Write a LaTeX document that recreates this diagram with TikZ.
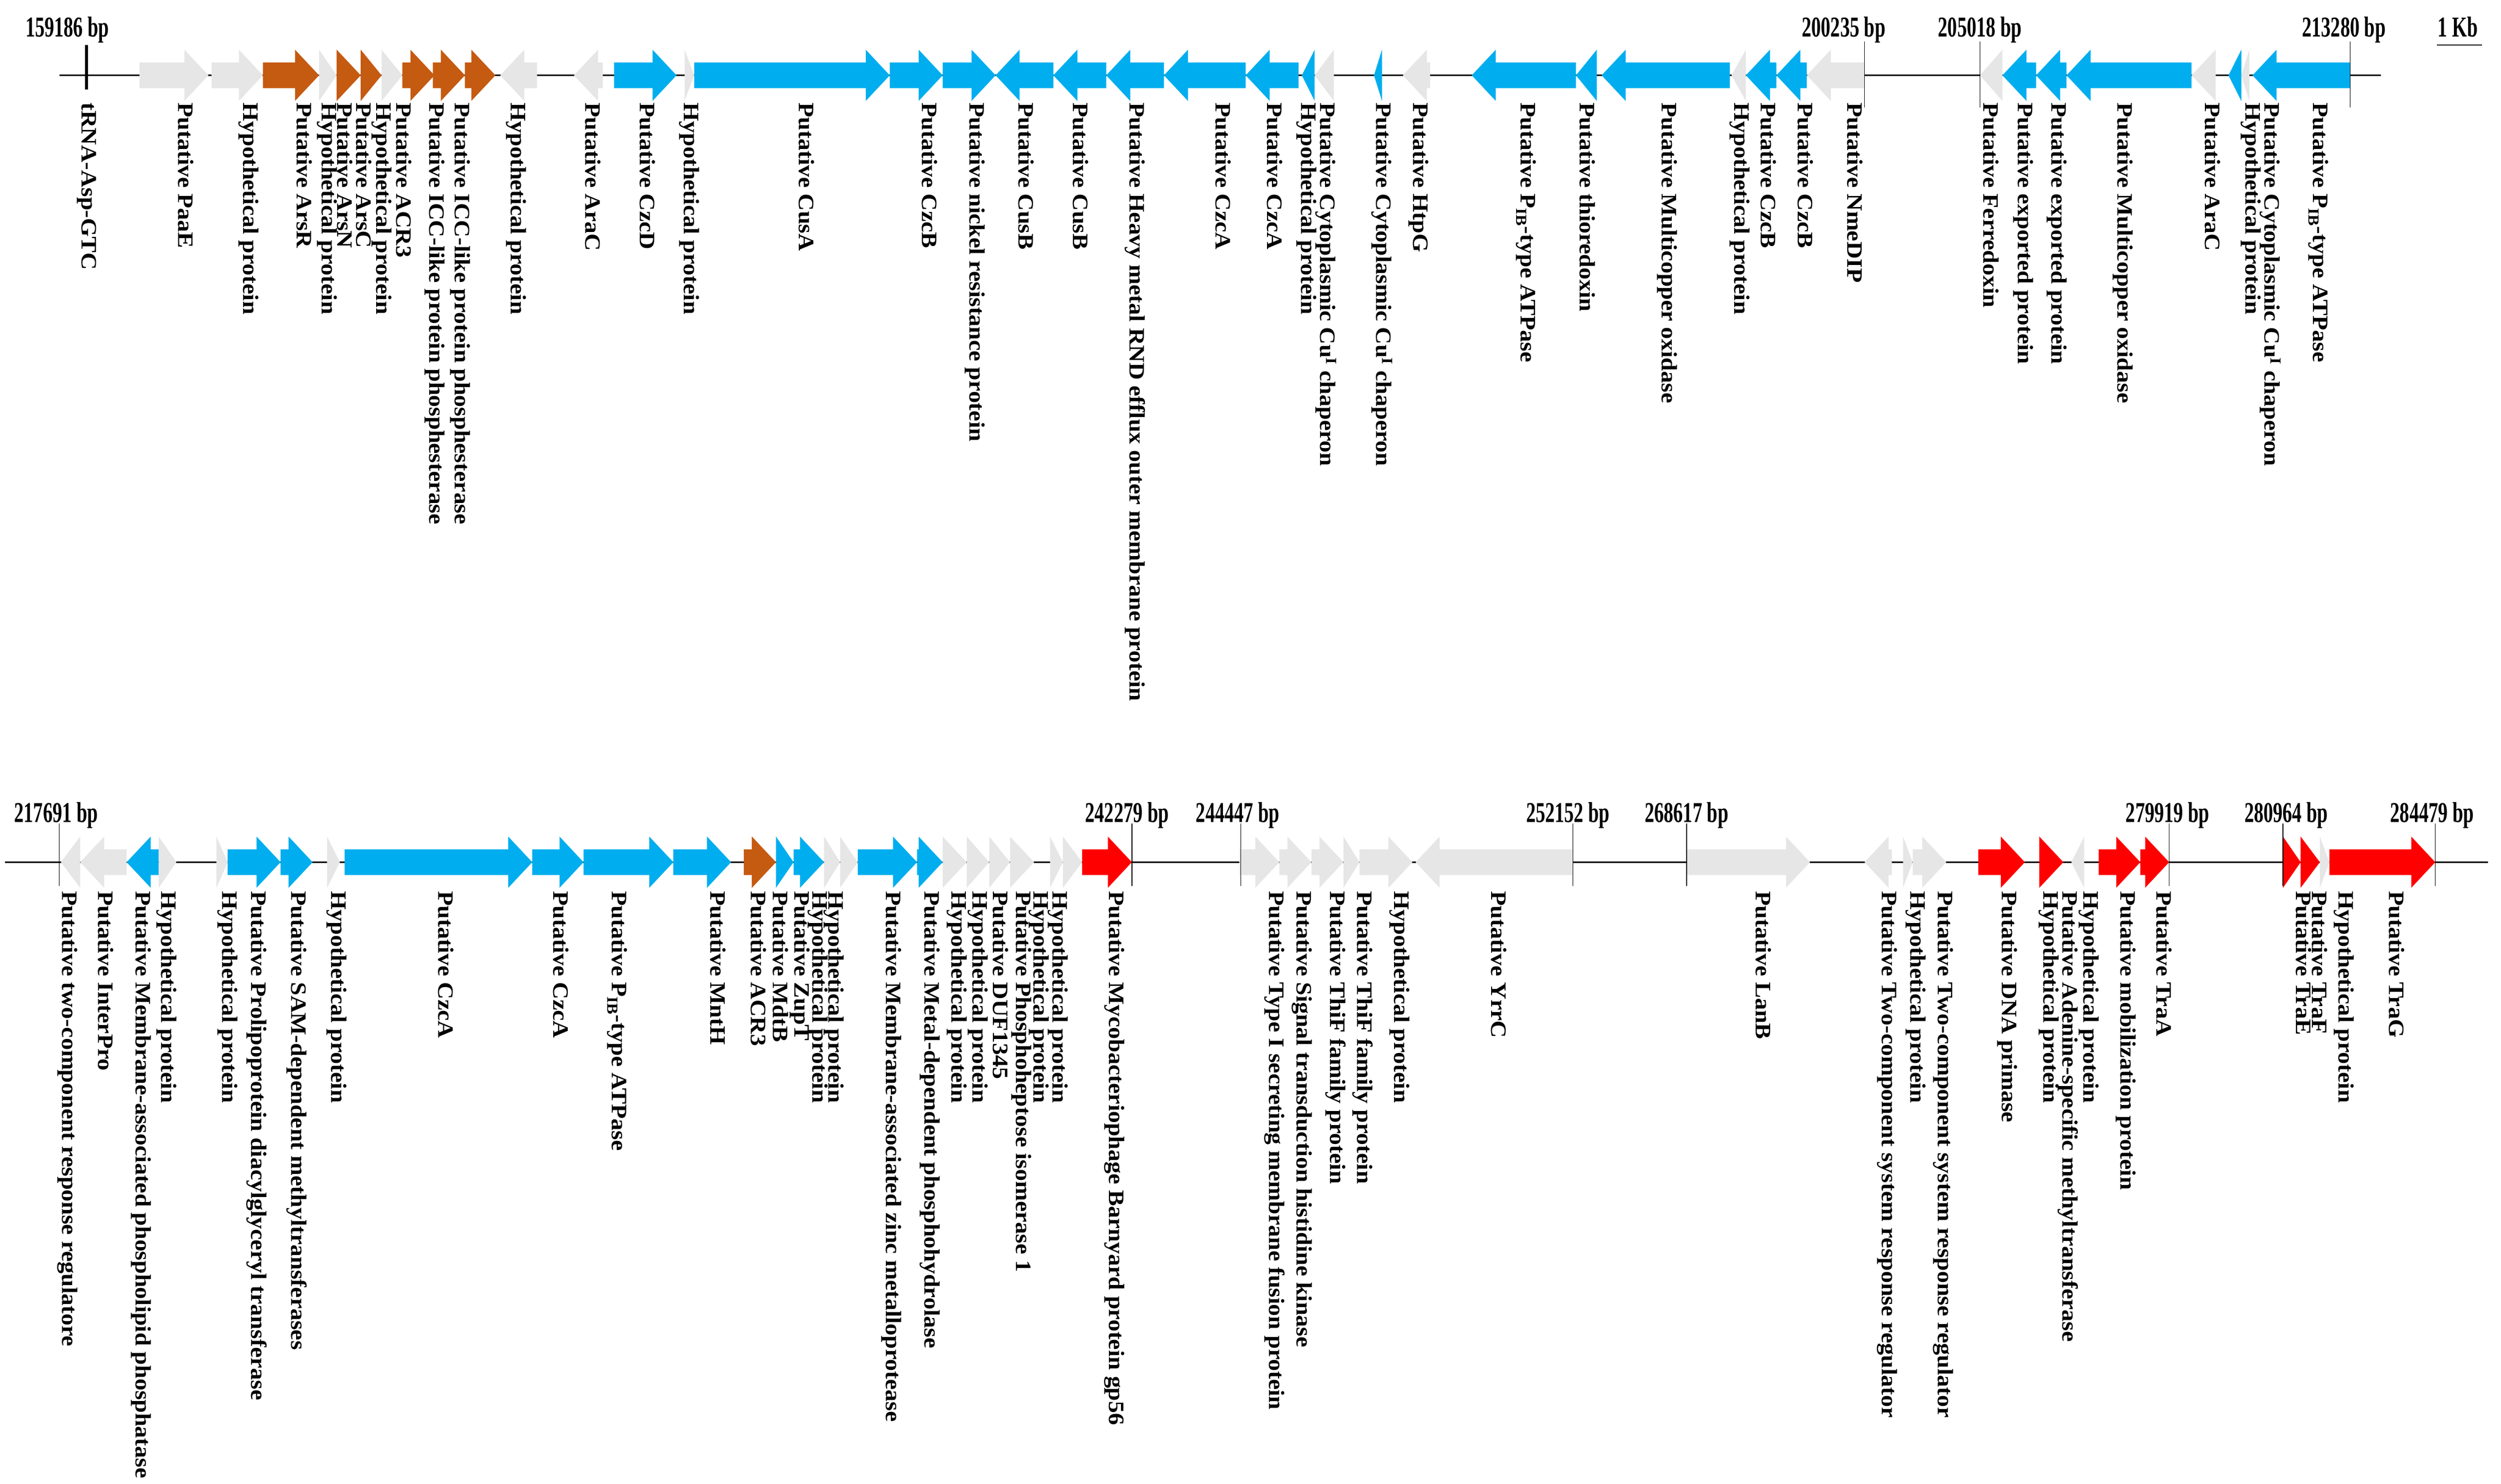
\documentclass[tikz,border=0pt]{standalone}
\usepackage{fontspec}
\setmainfont{Liberation Serif}
\usepackage{tikz}
\usetikzlibrary{positioning}
\definecolor{gr}{RGB}{230,230,230}
\definecolor{bl}{RGB}{0,174,239}
\definecolor{og}{RGB}{197,90,17}
\definecolor{rd}{RGB}{255,0,0}
% one gene: from, to (arrow head at "to"), backbone y, colour
\newcommand{\gene}[4]{%
  \pgfmathsetmacro{\hx}{#2-sign(#2-#1)*min(15,abs(#2-#1))}
  \fill[#4] (#1,#3-8) -- (\hx,#3-8) -- (\hx,#3-16) -- (#2,#3) -- (\hx,#3+16) -- (\hx,#3+8) -- (#1,#3+8) -- cycle;}
\newcommand{\lbl}[1]{\scalebox{1.25}[1.15]{#1}}
\newcommand{\pos}[1]{\scalebox{1.0}[1.5]{#1}}
\begin{document}
\begin{tikzpicture}[x=0.1cm,y=-0.1cm]
\tikzset{LabelStyle/.style = {rotate=-90, anchor=west, inner sep=0pt,
                              font=\fontsize{34}{36}\selectfont\bfseries},
         PosStyle/.style   = {anchor=base, inner sep=0pt,
                              font=\fontsize{34}{36}\selectfont\bfseries},
         TickStyle/.style  = {line width=1.2pt}}
\useasboundingbox (0,0) rectangle (1560,926);
% backbones
\coordinate (A1) at (37,47);  \coordinate (A2) at (1485,47);
\coordinate (B1) at (3,538);  \coordinate (B2) at (1552,538);
\draw[line width=3pt] (A1) -- (A2);
\draw[line width=3pt] (B1) -- (B2);
% genes, first row
\foreach \f/\t/\c in {87/130/gr, 132/164/gr, 164/199/og, 199/210/gr, 210/225/og, 225/238/og,
  238/251/gr, 251/271/og, 270/290/og, 290/309/og, 335/312/gr, 376/358/gr, 383/422/bl,
  427/433/gr, 433/555/bl, 555/588/bl, 588/621/bl, 657/621/bl, 690/657/bl, 726/690/bl,
  777/726/bl, 810/777/bl, 820/812/bl, 832/820/gr, 862/857/bl, 892/875/gr, 983/918/bl,
  996/983/bl, 1079/999/bl, 1089/1080/gr, 1108/1089/bl, 1127/1108/bl, 1163/1127/gr,
  1249/1235/gr, 1270/1249/bl, 1289/1270/bl, 1367/1289/bl, 1382/1367/gr, 1398/1390/bl,
  1403/1398/gr, 1466/1405/bl}
  {\gene{\f}{\t}{47}{\c}}
% genes, second row
\foreach \f/\t/\c in {50/38/gr, 79/50/gr, 99/79/bl, 99/110/gr, 135/142/gr, 142/175/bl,
  175/195/bl, 204/212/gr, 215/332/bl, 332/364/bl, 364/420/bl, 420/456/bl, 464/484/og,
  484/495/bl, 495/514/bl, 514/524/gr, 524/535/gr, 535/572/bl, 572/588/bl, 588/603/gr,
  603/617/gr, 617/630/gr, 630/645/gr, 655/663/gr, 663/675/gr, 675/706/rd, 773/798/gr,
  798/818/gr, 818/838/gr, 838/848/gr, 848/881/gr, 981/883/gr, 1052/1129/gr, 1180/1163/gr,
  1187/1193/gr, 1193/1214/gr, 1234/1263/rd, 1272/1287/rd, 1300/1292/gr, 1309/1335/rd,
  1335/1353/rd, 1424/1435/rd, 1435/1447/rd, 1447/1453/gr, 1453/1519/rd}
  {\gene{\f}{\t}{538}{\c}}
% tRNA
\draw[line width=5pt] (54,28) -- (54,56);
% position ticks
\foreach \x in {1163,1235,1466}
  \draw[TickStyle] (\x,26) -- (\x,67);
\foreach \x in {37,706,774,981,1052,1353,1424,1519}
  \draw[TickStyle] (\x,514) -- (\x,553);
\foreach \x/\t [count=\i] in {42/159186, 1150/200235, 1235/205018, 1462/213280}
  \node[PosStyle] (p1-\i) at (\x,23) {\pos{\t{} bp}};
\node[PosStyle] (kb) at (1533,23) {\pos{1 Kb}};
\draw[line width=2pt] (1520,28) -- (1548,28);
\foreach \x/\t [count=\i] in {35/217691, 703/242279, 772/244447, 978/252152, 1052/268617,
  1352/279919, 1426/280964, 1517/284479}
  \node[PosStyle] (p2-\i) at (\x,513) {\pos{\t{} bp}};
% labels, first row
\foreach \x/\t [count=\i] in {54/{tRNA-Asp-GTC}, 116/{Putative PaaE}, 155/{Hypothetical protein},
  190/{Putative ArsR}, 204/{Hypothetical protein}, 215/{Putative ArsN}, 227/{Putative ArsC},
  238/{Hypothetical protein}, 252/{Putative ACR3}, 271/{Putative ICC-like protein phosphesterase},
  287/{Putative ICC-like protein phosphesterase}, 322/{Hypothetical protein}, 370/{Putative AraC},
  404/{Putative CzcD}, 430/{Hypothetical protein}, 503/{Putative CusA}, 580/{Putative CzcB},
  608/{Putative nickel resistance protein}, 640/{Putative CusB}, 674/{Putative CusB},
  708/{Putative Heavy metal RND efflux outer membrane protein}, 763/{Putative CzcA},
  795/{Putative CzcA}, 815/{Hypothetical protein},
  827/{Putative Cytoplasmic Cu$^{\mathbf{I}}$ chaperon},
  862/{Putative Cytoplasmic Cu$^{\mathbf{I}}$ chaperon}, 885/{Putative HtpG},
  952/{Putative P$_{\mathbf{IB}}$-type ATPase}, 990/{Putative thioredoxin},
  1040/{Putative Multicopper oxidase}, 1085/{Hypothetical protein}, 1103/{Putative CzcB},
  1126/{Putative CzcB}, 1157/{Putative NmeDIP}, 1242/{Putative Ferredoxin},
  1262/{Putative exported protein}, 1283/{Putative exported protein},
  1324/{Putative Multicopper oxidase}, 1380/{Putative AraC}, 1404/{Hypothetical protein},
  1416/{Putative Cytoplasmic Cu$^{\mathbf{I}}$ chaperon},
  1446/{Putative P$_{\mathbf{IB}}$-type ATPase}}
  \node[LabelStyle] (l1-\i) at (\x,64) {\lbl{\t}};
% labels, second row
\foreach \x/\t [count=\i] in {42/{Putative two-component response regulatore}, 66/{Putative InterPro},
  88/{Putative Membrane-associated phospholipid phosphatase}, 104/{Hypothetical protein},
  142/{Hypothetical protein}, 160/{Putative Prolipoprotein diacylglyceryl transferase},
  185/{Putative SAM-dependent methyltransferases}, 210/{Hypothetical protein},
  278/{Putative CzcA}, 350/{Putative CzcA}, 385/{Putative P$_{\mathbf{IB}}$-type ATPase},
  448/{Putative MntH}, 473/{Putative ACR3}, 487/{Putative MdtB}, 499/{Putative ZupT},
  510/{Hypothetical protein}, 520/{Hypothetical protein},
  556/{Putative Membrane-associated zinc metalloprotease},
  580/{Putative Metal-dependent phosphohydrolase}, 597/{Hypothetical protein},
  610/{Hypothetical protein}, 624/{Putative DUF1345}, 637/{Putative Phosphoheptose isomerase 1},
  648/{Hypothetical protein}, 660/{Hypothetical protein},
  695/{Putative Mycobacteriophage Barnyard protein gp56},
  795/{Putative Type I secreting membrane fusion protein},
  812/{Putative Signal transduction histidine kinase}, 833/{Putative ThiF family protein},
  850/{Putative ThiF family protein}, 873/{Hypothetical protein}, 935/{Putative YrrC},
  1100/{Putative LanB}, 1177/{Putative Two-component system response regulator},
  1195/{Hypothetical protein}, 1212/{Putative Two-component system response regulator},
  1252/{Putative DNA primase}, 1278/{Hypothetical protein},
  1290/{Putative Adenine-specific methyltransferase}, 1303/{Hypothetical protein},
  1326/{Putative mobilization protein}, 1350/{Putative TraA}, 1437/{Putative TraE},
  1447/{Putative TraF}, 1462/{Hypothetical protein}, 1495/{Putative TraG}}
  \node[LabelStyle] (l2-\i) at (\x,556) {\lbl{\t}};
\end{tikzpicture}
\end{document}
